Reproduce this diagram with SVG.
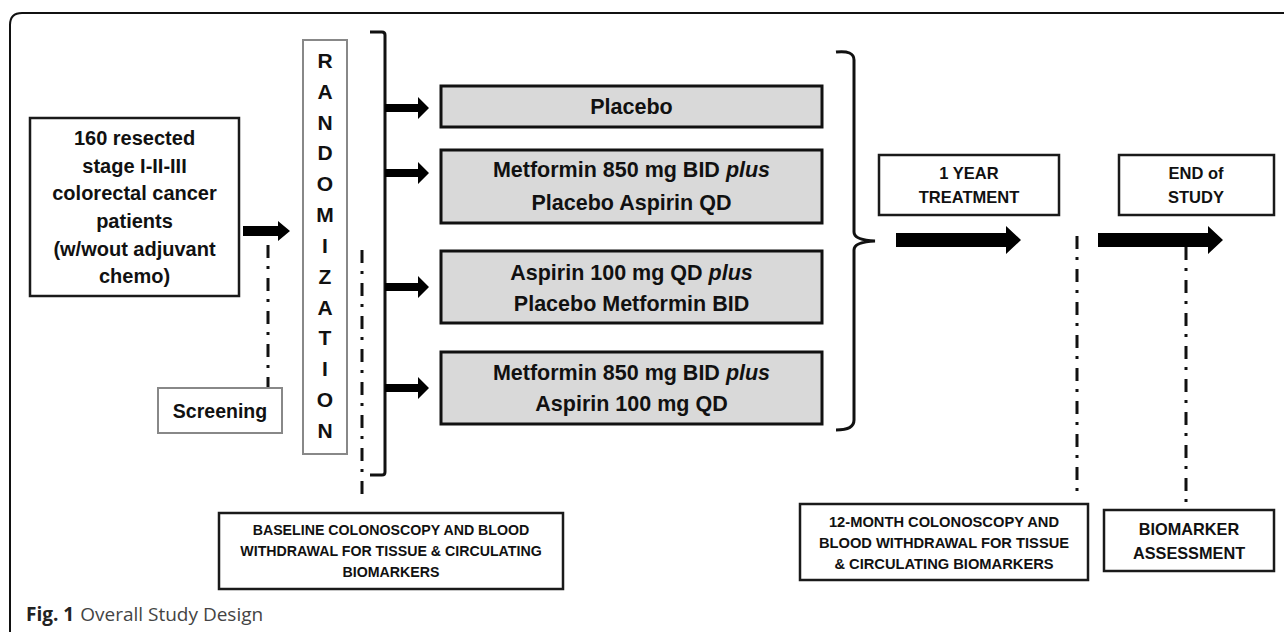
<svg xmlns="http://www.w3.org/2000/svg" width="1284" height="632" viewBox="0 0 1284 632">
<defs>
<style>
.t{font-family:"Liberation Sans",Arial,sans-serif;font-weight:bold;fill:#111;text-anchor:middle}
.box{fill:#fff;stroke:#1a1a1a;stroke-width:2.5}
.tbox{fill:#d9d9d9;stroke:#111;stroke-width:3}
.gbox{fill:#fff;stroke:#888;stroke-width:2}
.dd{fill:none;stroke:#111;stroke-width:3;stroke-dasharray:13 8 3 9}
.br{fill:none;stroke:#111;stroke-width:3}
.ar{fill:#000}
</style>
</defs>
<rect width="1284" height="632" fill="#fff"/>
<path d="M10,632 V25 Q10,13 22,13 H1284" fill="none" stroke="#111" stroke-width="2"/>

<g id="connectors">
<line class="dd" x1="268" y1="245" x2="268" y2="387"/>
<line class="dd" x1="362" y1="250" x2="362" y2="502"/>
<line class="dd" x1="1077" y1="236" x2="1077" y2="494"/>
<line class="dd" x1="1186" y1="247" x2="1186" y2="509"/>
<path class="br" d="M370,32 H382 Q385,32 385,35 V472 Q385,475 382,475 H370"/>
<path class="br" d="M836,52 Q854,50 854,60 V232 Q854,240 875,241 Q854,242 854,250 V420 Q854,430 836,430"/>
<polygon class="ar" points="243,226 278,226 278,221 290,231 278,241 278,236 243,236"/>
<polygon class="ar" points="385,104 418,104 418,97 429,108 418,119 418,112 385,112"/>
<polygon class="ar" points="385,169 418,169 418,162 429,173 418,184 418,177 385,177"/>
<polygon class="ar" points="385,283 418,283 418,276 429,287 418,298 418,291 385,291"/>
<polygon class="ar" points="385,384 418,384 418,377 429,388 418,399 418,392 385,392"/>
<polygon class="ar" points="896,233 1006,233 1006,226 1021,240 1006,254 1006,247 896,247"/>
<polygon class="ar" points="1098,233 1208,233 1208,226 1223,240 1208,254 1208,247 1098,247"/>
</g>

<g id="patients">
<rect class="box" x="30" y="118" width="209" height="178" stroke-width="3"/>
<text class="t" font-size="20" x="134.5" y="145">160 resected</text>
<text class="t" font-size="20" x="134.5" y="173">stage I-II-III</text>
<text class="t" font-size="20" x="134.5" y="200">colorectal cancer</text>
<text class="t" font-size="20" x="134.5" y="228">patients</text>
<text class="t" font-size="20" x="134.5" y="256">(w/wout adjuvant</text>
<text class="t" font-size="20" x="134.5" y="283">chemo)</text>
</g>

<g id="screening">
<rect class="gbox" x="158" y="388" width="124" height="45"/>
<text class="t" font-size="19.5" x="220" y="418">Screening</text>
</g>

<g id="randomization">
<rect class="gbox" x="303" y="40" width="44" height="414"/>
<g class="t" font-size="21">
<text x="325" y="68">R</text>
<text x="325" y="99">A</text>
<text x="325" y="130">N</text>
<text x="325" y="160">D</text>
<text x="325" y="191">O</text>
<text x="325" y="222">M</text>
<text x="325" y="253">I</text>
<text x="325" y="284">Z</text>
<text x="325" y="315">A</text>
<text x="325" y="345">T</text>
<text x="325" y="376">I</text>
<text x="325" y="407">O</text>
<text x="325" y="438">N</text>
</g>
</g>

<g id="arm1">
<rect class="tbox" x="441" y="86" width="381" height="41"/>
<text class="t" font-size="21.5" x="631.5" y="114">Placebo</text>
</g>
<g id="arm2">
<rect class="tbox" x="441" y="150" width="381" height="73"/>
<text class="t" font-size="21.5" x="631.5" y="177">Metformin 850 mg BID <tspan font-style="italic">plus</tspan></text>
<text class="t" font-size="21.5" x="631.5" y="210">Placebo Aspirin QD</text>
</g>
<g id="arm3">
<rect class="tbox" x="441" y="251" width="381" height="72"/>
<text class="t" font-size="21.5" x="631.5" y="280">Aspirin 100 mg QD <tspan font-style="italic">plus</tspan></text>
<text class="t" font-size="21.5" x="631.5" y="311">Placebo Metformin BID</text>
</g>
<g id="arm4">
<rect class="tbox" x="441" y="352" width="381" height="72"/>
<text class="t" font-size="21.5" x="631.5" y="380">Metformin 850 mg BID <tspan font-style="italic">plus</tspan></text>
<text class="t" font-size="21.5" x="631.5" y="411">Aspirin 100 mg QD</text>
</g>

<g id="treatment">
<rect class="box" x="879" y="155" width="180" height="60"/>
<text class="t" font-size="16.5" x="969" y="179">1 YEAR</text>
<text class="t" font-size="16.5" x="969" y="203">TREATMENT</text>
</g>
<g id="end">
<rect class="box" x="1119" y="155" width="155" height="60"/>
<text class="t" font-size="16.5" x="1196" y="179">END of</text>
<text class="t" font-size="16.5" x="1196" y="203">STUDY</text>
</g>

<g id="baseline">
<rect class="box" x="219" y="513" width="344" height="76"/>
<text class="t" font-size="14.2" x="391" y="535">BASELINE COLONOSCOPY AND BLOOD</text>
<text class="t" font-size="14.2" x="391" y="556">WITHDRAWAL FOR TISSUE &amp; CIRCULATING</text>
<text class="t" font-size="14.2" x="391" y="577">BIOMARKERS</text>
</g>
<g id="month12">
<rect class="box" x="800" y="504" width="288" height="76"/>
<text class="t" font-size="14.7" x="944" y="527">12-MONTH COLONOSCOPY AND</text>
<text class="t" font-size="14.7" x="944" y="548">BLOOD WITHDRAWAL FOR TISSUE</text>
<text class="t" font-size="14.7" x="944" y="569">&amp; CIRCULATING BIOMARKERS</text>
</g>
<g id="biomarker">
<rect class="box" x="1104" y="510" width="170" height="61"/>
<text class="t" font-size="16.3" x="1189" y="535">BIOMARKER</text>
<text class="t" font-size="16.3" x="1189" y="559">ASSESSMENT</text>
</g>

<g id="caption">
<text x="26" y="621" font-family="'Open Sans',sans-serif" font-size="19"><tspan font-weight="bold" fill="#222">Fig. 1</tspan><tspan fill="#444" dx="6">Overall Study Design</tspan></text>
</g>
</svg>
